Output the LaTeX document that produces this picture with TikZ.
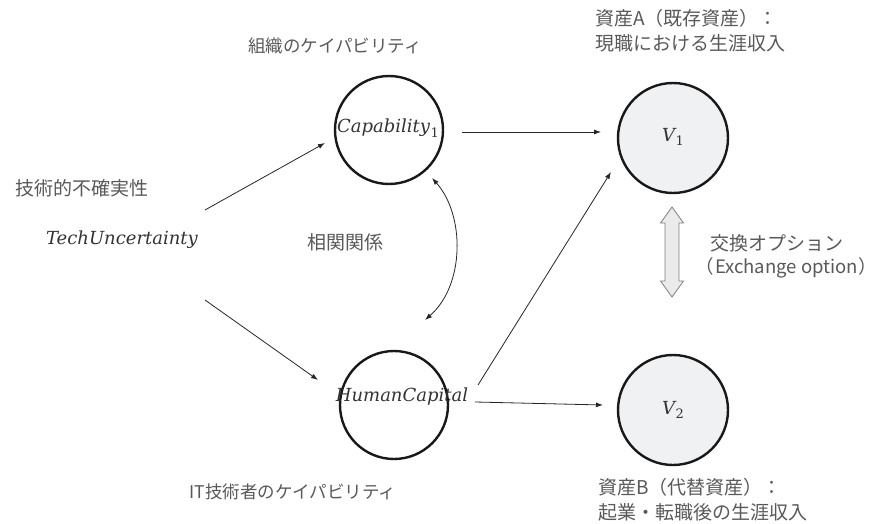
\documentclass[tikz,border=0pt]{standalone}
\usepackage{fontspec}
\usetikzlibrary{arrows.meta}
\newfontfamily\jp{Noto Sans CJK JP}
\newfontfamily\mfont{DejaVu Serif}
\definecolor{txt}{HTML}{595959}
\definecolor{mtxt}{HTML}{333333}
\definecolor{vfill}{HTML}{F0F1F3}
\newcommand{\subone}[1]{\kern0.5pt\raisebox{-4.5pt}{\fontsize{13}{13}\selectfont\upshape #1}}
\begin{document}
\begin{tikzpicture}[x=1pt,y=-1pt,
  jlabel/.style={text=txt,font=\jp\fontsize{19}{25}\selectfont,inner sep=0pt},
  jsmall/.style={jlabel,font=\jp\fontsize{17.5}{23}\selectfont},
  mlabel/.style={text=mtxt,font=\mfont\itshape\fontsize{18}{22}\selectfont,inner sep=0pt},
  ring/.style={circle,draw=black!90,line width=2.4pt,minimum size=108pt,inner sep=0pt},
  vring/.style={ring,fill=vfill,minimum size=110pt},
  arr/.style={-{Latex[length=7pt,width=5pt]},line width=0.8pt,draw=black!85},
  arrb/.style={{Latex[length=7pt,width=5pt]}-{Latex[length=7pt,width=5pt]},line width=0.8pt,draw=black!85},
  exarrow/.style={draw=black!50,fill=black!8,line width=0.8pt,line join=miter}
]
\useasboundingbox (0,0) rectangle (878,524);
\fill[white] (0,0) rectangle (878,524);

% circles
\node[ring] (cap) at (389,130) {};
\node[ring] (hc) at (394,405) {};
\node[vring] (v1) at (673,138) {};
\node[vring] (v2) at (673,410) {};

% texts in circles
\node[mlabel] (capt) at (388,128) {Capability\subone{1}};
\node[mlabel] (hct) at (402,397) {HumanCapital};
\node[mlabel] (v1t) at (673,137) {V\subone{1}};
\node[mlabel] (v2t) at (673,410) {V\subone{2}};
\node[mlabel] (tu) at (122,240) {TechUncertainty};

% labels
\node[jsmall] (capl) at (335,46) {組織のケイパビリティ};
\node[jlabel] (tul) at (82,188) {技術的不確実性};
\node[jlabel] (corr) at (345,242) {相関関係};
\node[jsmall] (hcl) at (293,492) {IT技術者のケイパビリティ};
\node[jlabel,anchor=west] (v1l1) at (595,18) {資産A（既存資産）：};
\node[jlabel,anchor=west] (v1l2) at (595,43) {現職における生涯収入};
\node[jlabel,anchor=west] (v2l1) at (598,487) {資産B（代替資産）：};
\node[jlabel,anchor=west] (v2l2) at (598,512) {起業・転職後の生涯収入};
\node[jlabel,anchor=west] (exl1) at (710,243) {交換オプション};
\node[jlabel,anchor=west,font=\jp\fontsize{18.5}{24}\selectfont] (exl2) at (705,268) {\makebox[0.45em][r]{（}\kern1.5pt Exchange option\kern1pt\makebox[0.45em][l]{）}};

% exchange double arrow
\coordinate (ex) at (672,252);
\draw[exarrow] ([shift={(0,-45)}]ex) -- ++(11.5,16) -- ++(-4.5,0) -- ++(0,58)
  -- ++(4.5,0) -- ++(-11.5,16) -- ++(-11.5,-16) -- ++(4.5,0) -- ++(0,-58)
  -- ++(-4.5,0) -- cycle;

% connectors
\draw[arr] ([shift={(83,-30)}]tu.center) -- ([shift={(-64,13)}]cap.center);
\draw[arr] ([shift={(83,60)}]tu.center) -- ([shift={(-76,-25)}]hc.center);
\draw[arr] ([shift={(73,2)}]cap.center) -- ([shift={(-72,-6)}]v1.center);
\draw[arr] ([shift={(84,-20)}]hc.center) -- ([shift={(-62,34)}]v1.center);
\draw[arr] ([shift={(81,-3)}]hc.center) -- ([shift={(-70,-5)}]v2.center);
\draw[arrb] ([shift={(43,48)}]cap.center) .. controls ([shift={(76,85)}]cap.center) and ([shift={(71,-120)}]hc.center) .. ([shift={(31,-85)}]hc.center);
\end{tikzpicture}
\end{document}
